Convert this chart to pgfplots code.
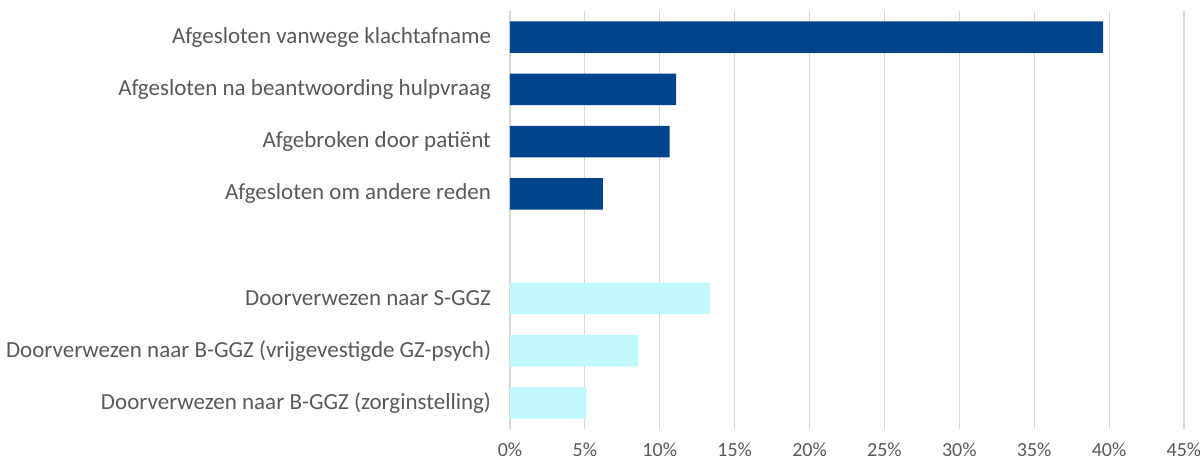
\documentclass[border=0pt]{standalone}
\usepackage{pgfplots}
\pgfplotsset{compat=1.18}
\usepackage{fontspec}
\setmainfont{Carlito}
\definecolor{darkb}{RGB}{0,69,140}
\definecolor{lightc}{RGB}{192,248,252}
\definecolor{gridg}{RGB}{217,217,217}
\definecolor{txtg}{RGB}{89,89,89}
\begin{document}
\begin{tikzpicture}
\begin{axis}[
  at={(0,0)}, anchor=south west,
  scale only axis,
  width=337bp, height=209bp,
  xbar, bar shift=0pt, bar width=0.6,
  xmin=0, xmax=45,
  ymin=-0.5, ymax=7.5,
  xtick={0,5,...,45},
  xticklabel={\pgfmathprintnumber{\tick}\%},
  /pgf/number format/assume math mode=true,
  ytick={0,1,2,4,5,6,7},
  yticklabels={Doorverwezen naar B-GGZ (zorginstelling),
               Doorverwezen naar B-GGZ (vrijgevestigde GZ-psych),
               Doorverwezen naar S-GGZ,
               Afgesloten om andere reden,
               Afgebroken door patiënt,
               Afgesloten na beantwoording hulpvraag,
               Afgesloten vanwege klachtafname},
  xmajorgrids,
  grid style={gridg, line width=0.6bp},
  axis line style={draw=none},
  major tick length=0pt,
  yticklabel style={font=\fontsize{11.5bp}{13bp}\selectfont, text=txtg},
  xticklabel style={font=\fontsize{10bp}{12bp}\selectfont, text=txtg},
  yticklabel shift=6bp,
  xticklabel shift=3.5bp,
]
\addplot[draw=none, fill=darkb] coordinates {(39.6,7) (11.1,6) (10.65,5) (6.2,4)};
\addplot[draw=none, fill=lightc] coordinates {(13.35,2) (8.55,1) (5.1,0)};
\end{axis}
\pgfresetboundingbox
\path (-255bp,-15.5bp) rectangle (345bp,214.5bp);
\end{tikzpicture}
\end{document}
